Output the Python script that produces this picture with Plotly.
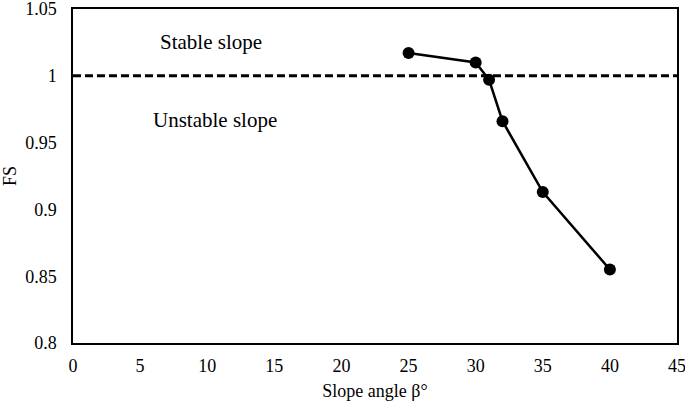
import plotly.graph_objects as go

slope_angle = [25, 30, 31, 32, 35, 40]
fs_values = [1.017, 1.010, 0.997, 0.966, 0.913, 0.855]
x_ticks = [0, 5, 10, 15, 20, 25, 30, 35, 40, 45]
y_ticks = [0.8, 0.85, 0.9, 0.95, 1.0, 1.05]
y_tick_labels = ["0.8", "0.85", "0.9", "0.95", "1", "1.05"]
threshold = 1.0

font = "Liberation Serif, Times New Roman, serif"

fig = go.Figure()
fig.add_trace(go.Scatter(
    x=[0, 45], y=[threshold, threshold], mode="lines",
    line=dict(color="black", width=3, dash="8px,4px"),
    showlegend=False, hoverinfo="skip", cliponaxis=False))
fig.add_trace(go.Scatter(
    x=slope_angle, y=fs_values, mode="lines+markers",
    line=dict(color="black", width=2.5),
    marker=dict(color="black", size=12),
    showlegend=False))

fig.add_annotation(x=10.3, y=1.0255, text="Stable slope", showarrow=False,
                   font=dict(family=font, size=21, color="black"))
fig.add_annotation(x=10.6, y=0.967, text="Unstable slope", showarrow=False,
                   font=dict(family=font, size=21, color="black"))

fig.update_layout(
    width=685, height=404,
    margin=dict(l=73, r=8, t=9, b=61),
    paper_bgcolor="white", plot_bgcolor="white",
    font=dict(family=font, size=18, color="black"),
    xaxis=dict(range=[0, 45], tickvals=x_ticks, showgrid=False, zeroline=False,
               showline=True, linecolor="black", linewidth=1.5, mirror=True,
               ticks="", ticklabelstandoff=6, automargin=False,
               ticklabeloverflow="allow",
               title=dict(text="Slope angle β°", font=dict(size=18), standoff=9)),
    yaxis=dict(range=[0.8, 1.05], tickvals=y_ticks, ticktext=y_tick_labels,
               showgrid=False, zeroline=False,
               showline=True, linecolor="black", linewidth=1.5, mirror=True,
               ticks="", ticklabelstandoff=11, automargin=False,
               ticklabeloverflow="allow",
               title=dict(text="FS", font=dict(size=18), standoff=12)),
)

fig.write_html("out.html", config={"displayModeBar": False},
               post_script="document.body.style.margin='0';")
